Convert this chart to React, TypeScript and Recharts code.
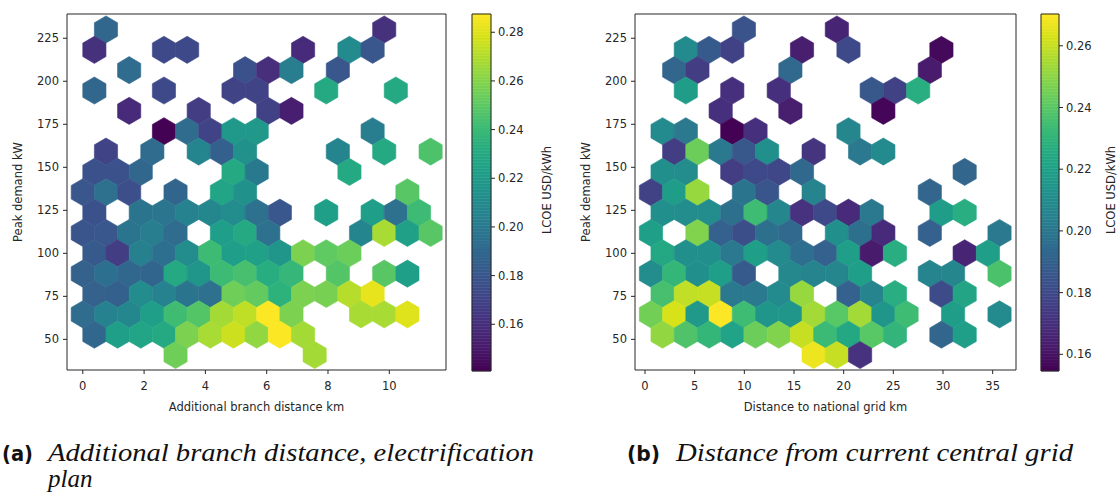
import React from 'react';
import { ScatterChart, Scatter, XAxis, YAxis, ReferenceArea } from 'recharts';

// ---------- shared data ----------
const Y_DOMAIN: [number, number] = [32.2, 239.1];
const Y_TICKS = [50, 75, 100, 125, 150, 175, 200, 225];

// ---------- panel (a): additional branch distance ----------
const branchGrid = { xMin: 0, xStep: 0.7565, yMax: 230.1, yStep: 23.65 };
const branchXDomain: [number, number] = [-0.515, 11.85];
const branchXTicks = [0, 2, 4, 6, 8, 10];
const branchColorDomain: [number, number] = [0.1408, 0.2875];
const branchColorTicks = [0.16, 0.18, 0.2, 0.22, 0.24, 0.26, 0.28];
// each row (top -> bottom) lists [hex column, LCOE USD/kWh]
const branchRows: [number, number][][] = [
  [[2, 0.189], [26, 0.161]],
  [[1, 0.161], [7, 0.173], [9, 0.173], [19, 0.158], [23, 0.21], [25, 0.18]],
  [[4, 0.192], [14, 0.177], [16, 0.16], [18, 0.202], [22, 0.18]],
  [[1, 0.189], [7, 0.173], [13, 0.17], [15, 0.17], [21, 0.229], [27, 0.229]],
  [[4, 0.158], [10, 0.167], [16, 0.169], [18, 0.153]],
  [[7, 0.141], [9, 0.192], [11, 0.17], [13, 0.219], [15, 0.219], [25, 0.202]],
  [[2, 0.17], [6, 0.192], [10, 0.207], [12, 0.185], [14, 0.214], [22, 0.207], [26, 0.229], [30, 0.246]],
  [[1, 0.177], [3, 0.177], [5, 0.189], [13, 0.229], [15, 0.2], [23, 0.229]],
  [[0, 0.18], [2, 0.195], [4, 0.176], [8, 0.188], [12, 0.226], [14, 0.214], [28, 0.249]],
  [[1, 0.177], [5, 0.197], [7, 0.198], [9, 0.205], [11, 0.208], [13, 0.211], [15, 0.195], [17, 0.18], [21, 0.223], [25, 0.222], [27, 0.195], [29, 0.241]],
  [[0, 0.179], [2, 0.18], [4, 0.197], [6, 0.202], [8, 0.192], [12, 0.222], [14, 0.229], [16, 0.195], [24, 0.207], [26, 0.268], [28, 0.224], [30, 0.249]],
  [[1, 0.182], [3, 0.167], [5, 0.204], [7, 0.194], [9, 0.211], [11, 0.241], [13, 0.222], [15, 0.224], [17, 0.217], [19, 0.258], [21, 0.251], [23, 0.254]],
  [[0, 0.186], [2, 0.194], [4, 0.189], [6, 0.188], [8, 0.229], [10, 0.217], [12, 0.241], [14, 0.244], [16, 0.232], [18, 0.238], [22, 0.248], [26, 0.249], [28, 0.223]],
  [[1, 0.186], [3, 0.185], [5, 0.211], [7, 0.205], [9, 0.197], [11, 0.195], [13, 0.255], [15, 0.252], [17, 0.235], [19, 0.258], [21, 0.257], [23, 0.271], [25, 0.282]],
  [[0, 0.192], [2, 0.205], [4, 0.208], [6, 0.223], [8, 0.242], [10, 0.248], [12, 0.267], [14, 0.273], [16, 0.287], [18, 0.258], [24, 0.268], [26, 0.268], [28, 0.28]],
  [[1, 0.189], [3, 0.223], [5, 0.226], [7, 0.229], [9, 0.258], [11, 0.268], [13, 0.276], [15, 0.263], [17, 0.287], [19, 0.267]],
  [[8, 0.255], [20, 0.267]],
];

// ---------- panel (b): distance to national grid ----------
const gridGrid = { xMin: 0.6, xStep: 2.3394, yMax: 230.1, yStep: 23.65 };
const gridXDomain: [number, number] = [-1.007, 37.35];
const gridXTicks = [0, 5, 10, 15, 20, 25, 30, 35];
const gridColorDomain: [number, number] = [0.1546, 0.2703];
const gridColorTicks = [0.16, 0.18, 0.2, 0.22, 0.24, 0.26];
const gridRows: [number, number][][] = [
  [[8, 0.184], [16, 0.166]],
  [[3, 0.209], [5, 0.187], [7, 0.177], [13, 0.164], [17, 0.18], [25, 0.157]],
  [[2, 0.192], [4, 0.175], [12, 0.193], [24, 0.163]],
  [[3, 0.218], [7, 0.17], [11, 0.17], [19, 0.186], [21, 0.177], [23, 0.227]],
  [[6, 0.17], [12, 0.164], [20, 0.156]],
  [[1, 0.209], [3, 0.201], [7, 0.155], [9, 0.17], [17, 0.207]],
  [[2, 0.175], [4, 0.244], [6, 0.201], [8, 0.186], [10, 0.212], [14, 0.172], [18, 0.201], [20, 0.209]],
  [[1, 0.212], [3, 0.21], [7, 0.175], [9, 0.18], [11, 0.179], [13, 0.193], [27, 0.192]],
  [[0, 0.177], [2, 0.218], [4, 0.252], [8, 0.199], [10, 0.185], [14, 0.206], [24, 0.192]],
  [[1, 0.212], [3, 0.21], [5, 0.21], [7, 0.197], [9, 0.234], [11, 0.207], [13, 0.171], [15, 0.18], [17, 0.168], [19, 0.201], [25, 0.218], [27, 0.227]],
  [[0, 0.219], [4, 0.248], [6, 0.19], [8, 0.182], [10, 0.197], [12, 0.193], [16, 0.212], [18, 0.197], [20, 0.168], [24, 0.19], [30, 0.201]],
  [[1, 0.224], [3, 0.212], [5, 0.212], [7, 0.201], [9, 0.219], [11, 0.209], [13, 0.196], [15, 0.19], [17, 0.219], [19, 0.163], [21, 0.227], [27, 0.166], [29, 0.219]],
  [[0, 0.21], [2, 0.231], [4, 0.212], [6, 0.219], [8, 0.187], [12, 0.208], [14, 0.206], [16, 0.207], [18, 0.219], [24, 0.206], [26, 0.207], [30, 0.237]],
  [[1, 0.236], [3, 0.259], [5, 0.26], [7, 0.201], [9, 0.201], [11, 0.209], [13, 0.252], [17, 0.19], [19, 0.206], [21, 0.227], [25, 0.181], [27, 0.222]],
  [[0, 0.245], [2, 0.263], [4, 0.216], [6, 0.27], [8, 0.234], [10, 0.215], [12, 0.215], [14, 0.254], [16, 0.24], [18, 0.254], [20, 0.215], [22, 0.234], [26, 0.218], [30, 0.209]],
  [[1, 0.251], [3, 0.238], [5, 0.231], [7, 0.221], [9, 0.244], [11, 0.248], [13, 0.26], [15, 0.233], [17, 0.224], [19, 0.24], [21, 0.23], [25, 0.192], [27, 0.219]],
  [[14, 0.267], [16, 0.26], [18, 0.171]],
];

// ---------- colour map ----------
const VIRIDIS = [
  '#440154', '#48186a', '#472d7b', '#424086', '#3b528b', '#33638d', '#2c728e', '#26828e', '#21918c',
  '#1fa088', '#28ae80', '#3fbc73', '#5ec962', '#84d44b', '#addc30', '#d8e219', '#fde725',
];
const hexToRgb = (h: string) => [1, 3, 5].map((i) => parseInt(h.slice(i, i + 2), 16));
function viridis(t: number): string {
  const tt = Math.max(0, Math.min(1, t));
  const pos = tt * (VIRIDIS.length - 1);
  const i = Math.min(Math.floor(pos), VIRIDIS.length - 2);
  const f = pos - i;
  const a = hexToRgb(VIRIDIS[i]);
  const b = hexToRgb(VIRIDIS[i + 1]);
  const c = a.map((v, k) => Math.round(v + (b[k] - v) * f));
  return `rgb(${c[0]},${c[1]},${c[2]})`;
}

const FONT = 'DejaVu Sans';
const INK = '#262626';
const tickStyle = { fill: INK, fontSize: 11.5, fontFamily: FONT };

type Grid = { xMin: number; xStep: number; yMax: number; yStep: number };

function HexPanel(props: {
  rows: [number, number][][];
  grid: Grid;
  xDomain: [number, number];
  xTicks: number[];
  cDomain: [number, number];
  left: number;
  marginRight: number;
}) {
  const { rows, grid, xDomain, xTicks, cDomain, left, marginRight } = props;
  const width = 460;
  const height = 400;
  const margin = { top: 14, right: marginRight, bottom: 0, left: 17 };
  const yAxisW = 50;
  const xAxisH = 30;
  const plotW = width - margin.left - margin.right - yAxisW;
  const plotH = height - margin.top - margin.bottom - xAxisH;
  const pxX = plotW / (xDomain[1] - xDomain[0]);
  const pxY = plotH / (Y_DOMAIN[1] - Y_DOMAIN[0]);
  const data = rows.flatMap((row, r) =>
    row.map(([c, v]) => ({ x: grid.xMin + (c * grid.xStep) / 2, y: grid.yMax - (r * grid.yStep) / 2, v }))
  );
  const hw = (grid.xStep / 2) * pxX;
  const h1 = (grid.yStep / 6) * pxY;
  const h2 = (grid.yStep / 3) * pxY;
  const shape = (p: any) => {
    const { cx, cy, payload } = p;
    const col = viridis((payload.v - cDomain[0]) / (cDomain[1] - cDomain[0]));
    const pts = [
      [cx, cy - h2], [cx + hw, cy - h1], [cx + hw, cy + h1],
      [cx, cy + h2], [cx - hw, cy + h1], [cx - hw, cy - h1],
    ].map((q) => q.join(',')).join(' ');
    return <polygon points={pts} fill={col} stroke={col} strokeWidth={0.6} />;
  };
  return (
    <div style={{ position: 'absolute', left, top: 0 }}>
      <ScatterChart width={width} height={height} margin={margin}>
        <XAxis
          type="number" dataKey="x" domain={xDomain} ticks={xTicks} allowDataOverflow interval={0}
          height={xAxisH} tickSize={4} tickMargin={8} axisLine={false}
          tick={tickStyle} tickLine={{ stroke: INK }}
        />
        <YAxis
          type="number" dataKey="y" domain={Y_DOMAIN} ticks={Y_TICKS} allowDataOverflow interval={0}
          width={yAxisW} tickSize={4} tickMargin={4} axisLine={false}
          tick={tickStyle} tickLine={{ stroke: INK }}
        />
        <Scatter data={data} shape={shape} isAnimationActive={false} />
        <ReferenceArea
          x1={xDomain[0]} x2={xDomain[1]} y1={Y_DOMAIN[0]} y2={Y_DOMAIN[1]}
          fill="none" fillOpacity={0} stroke={INK} strokeWidth={1} ifOverflow="visible"
        />
      </ScatterChart>
    </div>
  );
}

// colour bar: a vertical strip sampled from the colour scale, drawn in data space
const COLORBAR_STEPS = 120;

function ColorBar(props: {
  cDomain: [number, number];
  cTicks: number[];
  left: number;
  width: number;
  marginLeft: number;
  axisW: number;
}) {
  const { cDomain, cTicks, left, width, marginLeft, axisW } = props;
  const span = cDomain[1] - cDomain[0];
  const bands = Array.from({ length: COLORBAR_STEPS }, (_, i) => ({
    y1: cDomain[0] + (span * i) / COLORBAR_STEPS,
    y2: cDomain[0] + (span * (i + 1)) / COLORBAR_STEPS,
    col: viridis((i + 0.5) / COLORBAR_STEPS),
  }));
  const anchor = [{ x: 0, y: cDomain[0] }, { x: 1, y: cDomain[1] }];
  return (
    <div style={{ position: 'absolute', left, top: 0 }}>
      <ScatterChart width={width} height={400} margin={{ top: 14, right: 0, bottom: 29, left: marginLeft }}>
        <XAxis type="number" dataKey="x" domain={[0, 1]} allowDataOverflow hide />
        <YAxis
          type="number" dataKey="y" domain={cDomain} ticks={cTicks} allowDataOverflow interval={0}
          orientation="right" width={axisW} tickSize={4} tickMargin={3} axisLine={false}
          tick={tickStyle} tickLine={{ stroke: INK }} tickFormatter={(v: number) => v.toFixed(2)}
        />
        <Scatter data={anchor} shape={() => <g />} isAnimationActive={false} />
        {bands.map((b, i) => (
          <ReferenceArea
            key={i} x1={0} x2={1} y1={b.y1} y2={b.y2}
            fill={b.col} fillOpacity={1} stroke={b.col} strokeWidth={0.5} ifOverflow="visible"
          />
        ))}
        <ReferenceArea
          x1={0} x2={1} y1={cDomain[0]} y2={cDomain[1]}
          fill="none" fillOpacity={0} stroke={INK} strokeWidth={1} ifOverflow="visible"
        />
      </ScatterChart>
    </div>
  );
}

const capSans = { fontFamily: FONT, fontWeight: 700, fontSize: 21, fill: '#111' };
const capSerif = { fontFamily: 'Liberation Serif', fontStyle: 'italic', fontSize: 25, fill: '#111' };
const axisTitle = { fontFamily: FONT, fontSize: 11.5, fill: INK };

export default function App() {
  return (
    <div style={{ position: 'absolute', left: 0, top: 0, width: 1117, height: 494, background: '#fff', overflow: 'hidden' }}>
      <HexPanel rows={branchRows} grid={branchGrid} xDomain={branchXDomain} xTicks={branchXTicks} cDomain={branchColorDomain} left={0} marginRight={14} />
      <ColorBar cDomain={branchColorDomain} cTicks={branchColorTicks} left={440} width={120} marginLeft={32} axisW={69} />
      <HexPanel rows={gridRows} grid={gridGrid} xDomain={gridXDomain} xTicks={gridXTicks} cDomain={gridColorDomain} left={568} marginRight={12} />
      <ColorBar cDomain={gridColorDomain} cTicks={gridColorTicks} left={1010} width={107} marginLeft={31} axisW={58} />
      <svg width={1117} height={494} style={{ position: 'absolute', left: 0, top: 0, pointerEvents: 'none' }}>
        <text x={18} y={192} transform="rotate(-90 18 192)" textAnchor="middle" dominantBaseline="central" style={axisTitle}>Peak demand kW</text>
        <text x={586} y={192} transform="rotate(-90 586 192)" textAnchor="middle" dominantBaseline="central" style={axisTitle}>Peak demand kW</text>
        <text x={256.5} y={410.7} textAnchor="middle" style={axisTitle}>Additional branch distance km</text>
        <text x={825.5} y={410.7} textAnchor="middle" style={axisTitle}>Distance to national grid km</text>
        <text x={546.5} y={190} transform="rotate(-90 546.5 190)" textAnchor="middle" dominantBaseline="central" style={axisTitle}>LCOE USD/kWh</text>
        <text x={1110.5} y={190} transform="rotate(-90 1110.5 190)" textAnchor="middle" dominantBaseline="central" style={axisTitle}>LCOE USD/kWh</text>
        <text x={2} y={461} textLength={31} lengthAdjust="spacingAndGlyphs" style={capSans}>(a)</text>
        <text x={48} y={461} textLength={486} lengthAdjust="spacingAndGlyphs" style={capSerif}>Additional branch distance, electrification</text>
        <text x={48} y={487} style={capSerif}>plan</text>
        <text x={627} y={461} textLength={33} lengthAdjust="spacingAndGlyphs" style={capSans}>(b)</text>
        <text x={676} y={461} textLength={397} lengthAdjust="spacingAndGlyphs" style={capSerif}>Distance from current central grid</text>
      </svg>
    </div>
  );
}
